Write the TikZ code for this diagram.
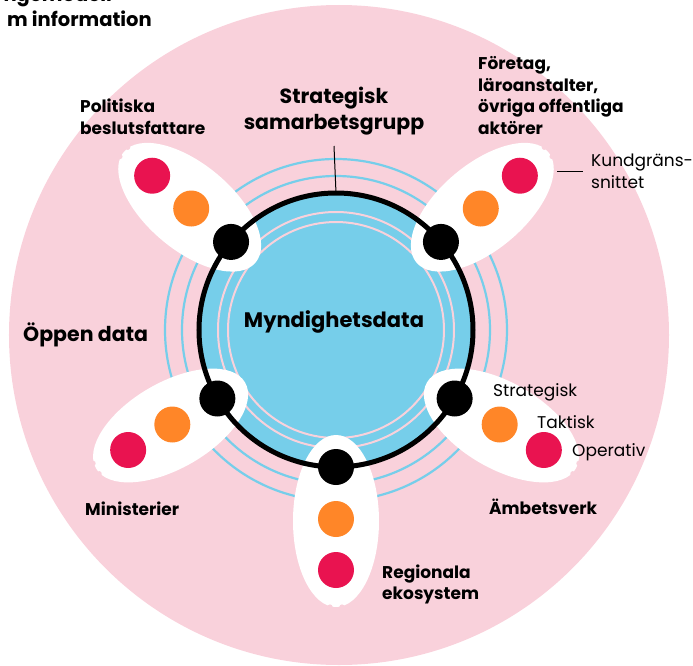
\documentclass[tikz,border=0pt]{standalone}
\usepackage{fontspec}
\setmainfont{Poppins}
\usepackage{tikz}
\usetikzlibrary{positioning}

\definecolor{bgpink}{RGB}{249,209,219}
\definecolor{datablue}{RGB}{118,206,234}
\definecolor{dotred}{RGB}{233,19,80}
\definecolor{dotorange}{RGB}{255,134,40}

\begin{document}
\begin{tikzpicture}[x=1pt, y=1pt,
    petal/.style={fill=white, x radius=86, y radius=43},
    bite/.style={fill=bgpink, radius=2.6},
    hub/.style={circle, fill=black, inner sep=0pt, minimum size=36pt},
    mid/.style={circle, fill=dotorange, inner sep=0pt, minimum size=36pt},
    outer/.style={circle, fill=dotred, inner sep=0pt, minimum size=36pt},
    lbl/.style={font=\fontsize{17}{21.5}\selectfont\bfseries, align=left, anchor=west, inner sep=0pt},
    thin lbl/.style={font=\fontsize{17}{22}\selectfont, align=left, anchor=west, inner sep=0pt}]
    \useasboundingbox (-336,-335) rectangle (357,330);

    % background disc and the rings round the data core
    \fill[bgpink] (3,-5) circle (330);
    \draw[datablue, line width=2.2] (0,0) circle (154);
    \draw[datablue, line width=2.2] (0,0) circle (171);
    \fill[datablue] (0,0) circle (137);
    \draw[bgpink, line width=2] (0,0) circle (118);
    \draw[bgpink, line width=2] (0,0) circle (108);

    % petals (white leaves with a bitten tip)
    \begin{scope}[rotate=140]
    \fill[petal] (191,0) ellipse [];
    \fill[bite] (277,6) circle []; \fill[bite] (277,-6) circle [];
    \end{scope}
    \begin{scope}[rotate=40]
    \fill[petal] (191,0) ellipse [];
    \fill[bite] (277,6) circle []; \fill[bite] (277,-6) circle [];
    \end{scope}
    \begin{scope}[rotate=210]
    \fill[petal] (191,0) ellipse [];
    \fill[bite] (277,6) circle []; \fill[bite] (277,-6) circle [];
    \end{scope}
    \begin{scope}[rotate=270]
    \fill[petal] (191,0) ellipse [];
    \fill[bite] (277,6) circle []; \fill[bite] (277,-6) circle [];
    \end{scope}
    \begin{scope}[rotate=330]
    \fill[petal] (191,0) ellipse [];
    \fill[bite] (277,6) circle []; \fill[bite] (277,-6) circle [];
    \end{scope}

    % the black ring
    \draw[line width=5] (0,0) circle (137);
    \coordinate (ringtop) at (90:137);

    % dots: hub on the ring, then strategic and operative levels outwards
    \node[hub] (pol) at (140:137) {};
    \node[mid] (pol-t) at (140:189) {};
    \node[outer] (pol-o) at (140:240) {};
    \node[hub] (ftg) at (40:137) {};
    \node[mid] (ftg-t) at (40:189) {};
    \node[outer] (ftg-o) at (40:240) {};
    \node[hub] (min) at (210:137) {};
    \node[mid] (min-t) at (210:189) {};
    \node[outer] (min-o) at (210:240) {};
    \node[hub] (reg) at (270:137) {};
    \node[mid] (reg-t) at (270:189) {};
    \node[outer] (reg-o) at (270:240) {};
    \node[hub] (amb) at (330:137) {};
    \node[mid] (amb-t) at (330:189) {};
    \node[outer] (amb-o) at (330:240) {};

    % texts
    \node[font=\fontsize{20.5}{26}\selectfont\bfseries, align=center] (grupp) at (-2,219)
        {Strategisk\\samarbetsgrupp};
    \draw[line width=1] (-2,184) -- (ringtop);
    \node[font=\fontsize{21}{24}\selectfont\bfseries] (core) at (-2,8) {Myndighetsdata};
    \node[lbl, font=\fontsize{20.5}{24}\selectfont\bfseries] (open) at (-313,-5) {Öppen data};
    \node[lbl] (pol-l) at (-256,213) {Politiska\\beslutsfattare};
    \node[lbl] (ftg-l) at (142,234.5) {Företag,\\läroanstalter,\\övriga offentliga\\aktörer};
    \node[thin lbl] (kund) at (255,159) {Kundgräns-\\snittet};
    \coordinate (kundtip) at (221,159);
    \draw[line width=1] (kundtip) -- ([xshift=-8pt]kund.west);
    \node[thin lbl] (strat) at (157,-62) {Strategisk};
    \node[thin lbl] (takt) at (201,-92) {Taktisk};
    \node[thin lbl] (oper) at (236,-122) {Operativ};
    \node[lbl] (amb-l) at (153,-177) {Ämbetsverk};
    \node[lbl] (min-l) at (-251,-179) {Ministerier};
    \node[lbl] (reg-l) at (46,-254.5) {Regionala\\ekosystem};

    % heading, cut at the page edge
    \node[font=\fontsize{19.5}{22}\selectfont\bfseries, anchor=base east, inner sep=0pt] (head1) at (-224,328) {ngemodell};
    \node[font=\fontsize{19.5}{22}\selectfont\bfseries, anchor=base east, inner sep=0pt] (head2) at (-184,304) {m information};
\end{tikzpicture}
\end{document}
